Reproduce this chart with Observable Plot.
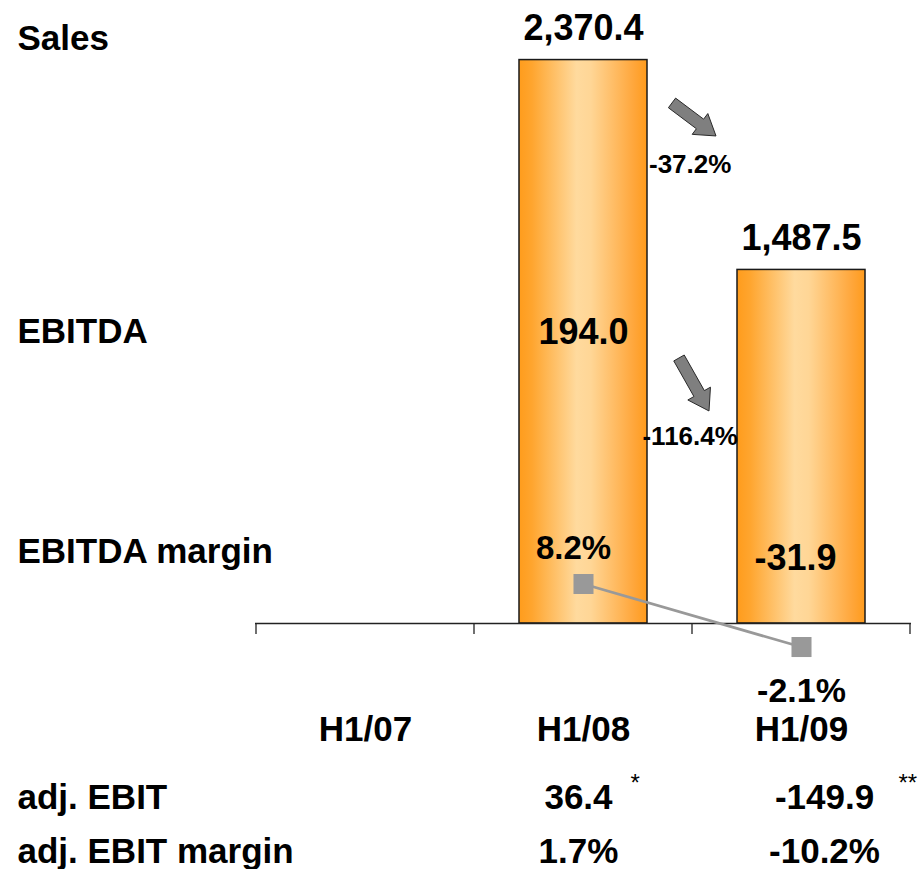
<!DOCTYPE html>
<html><head><meta charset="utf-8">
<script src="https://cdn.jsdelivr.net/npm/d3@7"></script>
<script src="https://cdn.jsdelivr.net/npm/@observablehq/plot@0.6"></script>
<style>body{margin:0;background:#fff} svg{display:block}</style>
</head><body><div id="chart"></div>
<script>
// ---- data ----
const periods = ["H1/07", "H1/08", "H1/09"];
const sales = [null, 2370.4, 1487.5];
const ebitda = [null, 194.0, -31.9];
const ebitdaMargin = [null, 8.2, -2.1];
const adjEbit = [null, 36.4, -149.9];
const adjEbitMargin = [null, 1.7, -10.2];
const adjEbitNotes = [null, "*", "**"];
const rowLabels = ["Sales", "EBITDA", "EBITDA margin", "adj. EBIT", "adj. EBIT margin"];

// ---- layout ----
const W = 920, H = 869, mL = 255, mR = 9, mT = 0, mB = 246;
const yMax = 2621;
const rowBaselines = [49, 342, 562, 808, 862];
const ebitdaLabelY = [null, 1174, 223];
const ebitdaLabelDx = [0, 0, -6];
const bottomDx = [0, -5, 23];
const marginToY = m => m * 25.74 - 44.9; // secondary axis mapped into sales units
const step = (W - mL - mR) / periods.length;
const FONT = "'Liberation Sans', Arial, Helvetica, sans-serif";

const fmt = v => d3.format(",.1f")(v).replace("\u2212", "-");
const pct = v => d3.format(".1f")(v).replace("\u2212", "-") + "%";

const rows = periods.map((p, i) => ({
  period: p, sales: sales[i], ebitda: ebitda[i], margin: ebitdaMargin[i],
  adjEbit: adjEbit[i], adjEbitMargin: adjEbitMargin[i], note: adjEbitNotes[i],
  ebitdaY: ebitdaLabelY[i], ebitdaDx: ebitdaLabelDx[i], dx: bottomDx[i]
}));
const valid = rows.filter(d => d.sales != null);

const salesChange = (sales[2] - sales[1]) / sales[1] * 100;
const ebitdaChange = (ebitda[2] - ebitda[1]) / Math.abs(ebitda[1]) * 100;
const changes = [
  {text: pct(salesChange), y: 1895, arrow: [[-20, 2188], [24, 2049]]},
  {text: pct(ebitdaChange), y: 753, arrow: [[-13, 1115], [17, 892]]}
];

// gradient defs
const defs = (index, scales, values, dim, context) => {
  const g = d3.create("svg:g");
  const grad = g.append("defs").append("linearGradient")
    .attr("id", "barGrad").attr("x1", 0).attr("x2", 1).attr("y1", 0).attr("y2", 0);
  [[0, "#FF9C1C"], [0.1, "#FFA52E"], [0.45, "#FFDA9E"], [0.56, "#FFD696"], [0.9, "#FFA63A"], [1, "#FF9B1C"]]
    .forEach(([o, c]) => grad.append("stop").attr("offset", o).attr("stop-color", c));
  return g.node();
};

// axis ticks at band boundaries
const ticks = (index, scales) => {
  const g = d3.create("svg:g").attr("stroke", "#222").attr("stroke-width", 1.3);
  const x = scales.x, y0 = scales.y(0);
  const bounds = periods.map(p => x(p)).concat([x(periods[periods.length - 1]) + x.bandwidth()]);
  bounds.forEach(b => g.append("line").attr("x1", b).attr("x2", b).attr("y1", y0).attr("y2", y0 + 11));
  return g.node();
};

// block arrows between bars
const arrows = (index, scales) => {
  const g = d3.create("svg:g");
  const xb = scales.x("H1/09");
  changes.forEach(c => {
    const [[dx0, v0], [dx1, v1]] = c.arrow;
    const x0 = xb + dx0, y0 = scales.y(v0), x1 = xb + dx1, y1 = scales.y(v1);
    const len = Math.hypot(x1 - x0, y1 - y0);
    const ux = (x1 - x0) / len, uy = (y1 - y0) / len, nx = -uy, ny = ux;
    const sw = 6, hw = 13, hl = 20;
    const bx = x1 - ux * hl, by = y1 - uy * hl;
    const pts = [
      [x0 + nx * sw, y0 + ny * sw], [bx + nx * sw, by + ny * sw], [bx + nx * hw, by + ny * hw],
      [x1, y1],
      [bx - nx * hw, by - ny * hw], [bx - nx * sw, by - ny * sw], [x0 - nx * sw, y0 - ny * sw]
    ];
    g.append("polygon").attr("points", pts.map(p => p.join(",")).join(" "))
      .attr("fill", "#7f7f7f").attr("stroke", "#2a2a2a").attr("stroke-width", 1);
  });
  return g.node();
};

const rowLabelMarks = rowLabels.map((t, i) => Plot.text([t], {
  text: d => d, frameAnchor: "top-left", dx: -238, dy: rowBaselines[i],
  textAnchor: "start", lineAnchor: "bottom", fontSize: 35, fontWeight: "bold", fill: "black"
}));

const chart = Plot.plot({
  width: W, height: H,
  marginLeft: mL, marginRight: mR, marginTop: mT, marginBottom: mB,
  style: {fontFamily: FONT, background: "white", overflow: "visible"},
  x: {type: "band", domain: periods, padding: 0, axis: null},
  y: {domain: [0, yMax], axis: null},
  marks: [
    defs,
    Plot.barY(valid, {x: "period", y: "sales", insetLeft: 45, insetRight: 45,
      fill: "url(#barGrad)", stroke: "#1a1a1a", strokeWidth: 1.5}),
    Plot.ruleY([0], {stroke: "#222", strokeWidth: 1.3}),
    ticks,
    // sales values
    Plot.text(valid, {x: "period", y: "sales", text: d => fmt(d.sales), dy: -20,
      lineAnchor: "bottom", fontSize: 36, fontWeight: "bold", fill: "black"}),
    // EBITDA values
    ...valid.map(d => Plot.text([d], {x: "period", y: "ebitdaY", text: r => fmt(r.ebitda), dx: d.ebitdaDx,
      lineAnchor: "bottom", fontSize: 36, fontWeight: "bold", fill: "black"})),
    // change labels and arrows
    arrows,
    Plot.text(changes, {x: () => "H1/09", y: "y", text: "text", dx: -step / 2 - 2,
      lineAnchor: "bottom", fontSize: 26, fontWeight: "bold", fill: "black"}),
    // EBITDA margin line
    Plot.line(valid, {x: "period", y: d => marginToY(d.margin), stroke: "#999999", strokeWidth: 2.8}),
    Plot.dot(valid, {x: "period", y: d => marginToY(d.margin), symbol: "square", r: 11.3, fill: "#999999"}),
    Plot.text(valid.filter(d => d.margin >= 0), {x: "period", y: d => marginToY(d.margin), text: d => pct(d.margin),
      dx: -10, dy: -25, lineAnchor: "bottom", fontSize: 33, fontWeight: "bold", fill: "black"}),
    Plot.text(valid.filter(d => d.margin < 0), {x: "period", y: d => marginToY(d.margin), text: d => pct(d.margin),
      dy: 55, lineAnchor: "bottom", fontSize: 34, fontWeight: "bold", fill: "black"}),
    // category labels
    Plot.text(periods, {x: d => d, text: d => d, frameAnchor: "bottom", dy: 117,
      lineAnchor: "bottom", fontSize: 35, fontWeight: "bold", fill: "black"}),
    // adj. EBIT rows
    ...valid.map(d => Plot.text([d], {x: "period", text: r => fmt(r.adjEbit), frameAnchor: "top",
      dx: d.dx, dy: rowBaselines[3], lineAnchor: "bottom", fontSize: 35, fontWeight: "bold", fill: "black"})),
    ...valid.map(d => Plot.text([d], {x: "period", text: r => pct(r.adjEbitMargin), frameAnchor: "top",
      dx: d.dx, dy: rowBaselines[4], lineAnchor: "bottom", fontSize: 35, fontWeight: "bold", fill: "black"})),
    ...valid.map(d => Plot.text([d], {x: "period", text: "note", frameAnchor: "top",
      dx: d.period === "H1/08" ? 47 : 97, dy: 790, textAnchor: "start", lineAnchor: "bottom",
      fontSize: 24, fill: "black"})),
    // row labels
    ...rowLabelMarks
  ]
});
document.getElementById("chart").appendChild(chart);
</script>
</body></html>
